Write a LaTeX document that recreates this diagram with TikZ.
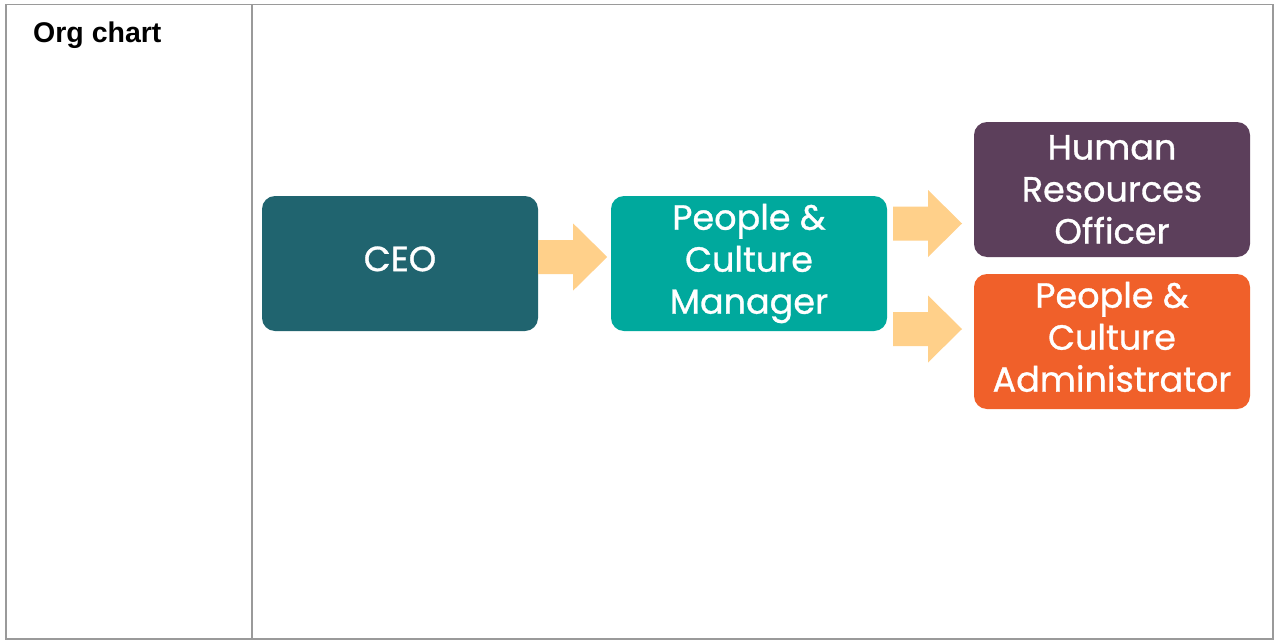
\documentclass[tikz,border=0pt]{standalone}
\usepackage{fontspec}
\setmainfont{Liberation Sans}
\newfontfamily\boxfont[FakeBold=0.9]{Poppins}
\definecolor{ceoc}{HTML}{20646F}
\definecolor{pcmc}{HTML}{00A99D}
\definecolor{hrc}{HTML}{5C3F5B}
\definecolor{admc}{HTML}{F0602A}
\definecolor{arrc}{HTML}{FFD08A}
\definecolor{rulec}{HTML}{9A9A9A}
\begin{document}
\begin{tikzpicture}[x=1pt,y=-1pt,
  box/.style={rounded corners=13pt, minimum width=276pt, minimum height=135pt, inner sep=0pt,
    text=white, align=center, font=\boxfont\fontsize{35}{42}\selectfont},
  rule/.style={draw=rulec, line width=1.3pt},
  barrow/.pic={\fill[arrc] (0,-17)--(35,-17)--(35,-33.5)--(69,0)--(35,33.5)--(35,17)--(0,17)--cycle;}]
\useasboundingbox (0,0) rectangle (1275,640);
\fill[white] (0,0) rectangle (1275,640);
% table
\draw[rule] (6,4.5) rectangle (1273,639);
\draw[rule] (252,4.5) -- (252,639);
\node[anchor=base west, font=\bfseries\fontsize{28.5}{32}\selectfont, inner sep=0pt] (title) at (33,42) {Org chart};
% boxes
\node[box, fill=ceoc] (ceo) at (400,263.5) {CEO\vphantom{g}};
\node[box, fill=pcmc] (pcm) at (749,263.5) {People \&\\Culture\\Manager};
\node[box, fill=hrc] (hr) at (1112,189.5) {Human\\Resources\\Officer};
\node[box, fill=admc] (adm) at (1112,341.5) {People \&\\Culture\\Administrator\vphantom{g}};
% arrows
\pic at (ceo.east |- 0,257) {barrow};
\pic at (893,223.5) {barrow};
\pic at (893,329) {barrow};
\end{tikzpicture}
\end{document}
